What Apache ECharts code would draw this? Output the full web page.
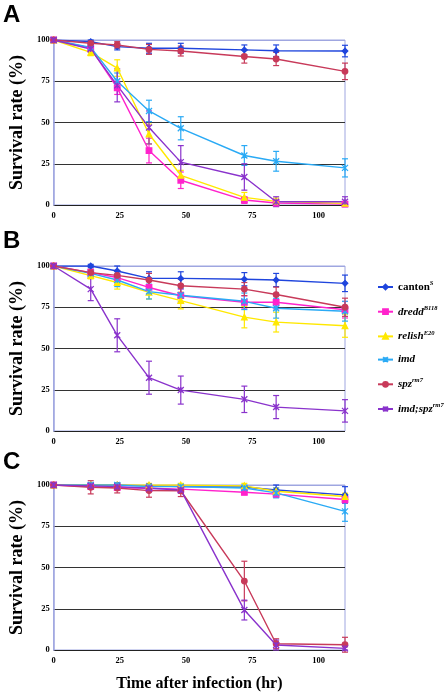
<!DOCTYPE html>
<html>
<head>
<meta charset="utf-8">
<script src="https://cdn.jsdelivr.net/npm/echarts@6/dist/echarts.min.js"></script>
<style>
html,body{margin:0;padding:0;background:#fff;}
#chart{width:445px;height:695px;}
</style>
</head>
<body>
<div id="chart"></div>
<script>
// ---- data ----
const hours = [0, 14, 24, 36, 48, 72, 84, 110];
const xTicks = [0, 25, 50, 75, 100];
const yTicks = [0, 25, 50, 75, 100];
const strainNames = ['canton', 'dredd', 'relish', 'imd', 'spz', 'imd;spz'];
const strainSup = ['S', 'B118', 'E20', '', 'rm7', 'rm7'];
const strainColors = ['#1f45dd', '#ff22cc', '#ffe800', '#2aaaf5', '#c83a5a', '#8a33cc'];
const panelLetters = ['A', 'B', 'C'];

// panel A: survival (%) per strain, order as strainNames
const panelA_canton = [100, 99, 96, 95, 95, 94, 93.5, 93.3];
const panelA_dredd = [100, 95, 71, 33, 15, 3, 1.2, 0.5];
const panelA_relish = [100, 92.5, 83, 43, 18, 4.6, 2.2, 1];
const panelA_imd = [100, 95.5, 75, 57, 46.5, 30, 26.5, 22.5];
const panelA_spz = [100, 98, 97, 94.3, 93.3, 90, 88.5, 81];
const panelA_imdspz = [100, 94.5, 72.5, 47, 26, 17, 2, 2];
const panelA_err = [
  [0, 1, 2, 3, 3, 3, 3.5, 3.5],
  [0, 2, 4, 7.5, 5, 2, 1, 1],
  [0, 2, 5, 6, 3, 3, 2, 1],
  [0, 2, 5, 6.5, 7, 6, 6, 5.5],
  [0, 1.5, 2, 3, 3, 4, 4, 5],
  [0, 2, 10, 10, 10, 8, 3, 3]
];

// panel B
const panelB_canton = [100, 100, 97, 92.5, 92.5, 92, 91.5, 89.5];
const panelB_dredd = [100, 96, 93, 87, 82, 78, 78, 73.5];
const panelB_relish = [100, 94.2, 90, 84, 79, 69, 66, 63.8];
const panelB_imd = [100, 95.5, 91.5, 84.5, 82.3, 78.6, 74.4, 72.6];
const panelB_spz = [100, 96, 94.3, 91.5, 88, 86, 82.7, 75];
const panelB_imdspz = [100, 86, 58, 32.3, 24.8, 19.2, 14.5, 12.2];
const panelB_err = [
  [0, 1, 3, 4, 4, 4, 4, 5],
  [0, 2, 4, 4, 4, 4, 4, 5],
  [0, 2, 4, 4, 5, 6.5, 6, 7],
  [0, 2, 4, 4.5, 4, 5, 6, 6],
  [0, 2, 3, 4, 4, 4, 4.5, 5.5],
  [0, 7, 10, 10, 8.5, 8, 7, 6.8]
];

// panel C
const panelC_canton = [100, 100, 100, 99.5, 99, 98.8, 97, 94];
const panelC_dredd = [100, 99, 98.5, 98, 97.5, 95.6, 94.5, 91.2];
const panelC_relish = [100, 100, 100, 100, 100, 99.5, 96.2, 93];
const panelC_imd = [100, 100, 100, 99, 99, 98.2, 95.2, 84];
const panelC_spz = [100, 98.6, 98.2, 96.6, 96.5, 41.8, 3.8, 3.2];
const panelC_imdspz = [100, 99.5, 99, 98, 97, 24.2, 3, 1];
const panelC_err = [
  [0, 1, 1, 1, 1, 1, 3, 5],
  [0, 1, 1, 1, 1, 1.5, 2, 2],
  [0, 1, 1, 1, 1, 1.5, 2, 2],
  [0, 1, 1, 1, 1, 1.5, 3, 6],
  [0, 4, 3, 4, 3.5, 12, 3, 4.5],
  [0, 1, 1, 2, 2, 6, 3, 1]
];

const panelValues = [
  [panelA_canton, panelA_dredd, panelA_relish, panelA_imd, panelA_spz, panelA_imdspz],
  [panelB_canton, panelB_dredd, panelB_relish, panelB_imd, panelB_spz, panelB_imdspz],
  [panelC_canton, panelC_dredd, panelC_relish, panelC_imd, panelC_spz, panelC_imdspz]
];
const panelErrors = [panelA_err, panelB_err, panelC_err];

// ---- layout / style ----
const gridTops = [40, 266, 485];
const gridH = 165;
const serif = 'Liberation Serif';
const asterisk = 'path://M0,0L10,10M10,0L0,10M5,0L5,10';
const symbols = ['diamond', 'rect', 'triangle', asterisk, 'circle', asterisk];

function errRender(params, api) {
  const x = api.value(0), y = api.value(1), e = api.value(2);
  if (!e) return null;
  const t = api.coord([x, y + e]);
  const b = api.coord([x, y - e]);
  const w = 3;
  const style = { stroke: api.visual('color'), lineWidth: 1.2, fill: null };
  return {
    type: 'group',
    children: [
      { type: 'line', shape: { x1: t[0], y1: t[1], x2: b[0], y2: b[1] }, style: style },
      { type: 'line', shape: { x1: t[0] - w, y1: t[1], x2: t[0] + w, y2: t[1] }, style: style },
      { type: 'line', shape: { x1: b[0] - w, y1: b[1], x2: b[0] + w, y2: b[1] }, style: style }
    ]
  };
}

const grids = [], xAxes = [], yAxes = [], series = [], graphics = [];
for (let p = 0; p < 3; p++) {
  grids.push({
    left: 52, width: 293, top: gridTops[p], height: gridH,
    show: true, borderColor: '#9fa6e0', borderWidth: 1, backgroundColor: 'transparent'
  });
  xAxes.push({
    gridIndex: p, type: 'value', min: 0, max: 110, interval: 25,
    axisLine: { show: false },
    axisTick: { show: false },
    splitLine: { show: false },
    axisLabel: {
      color: '#000', fontFamily: serif, fontWeight: 'bold',
      fontSize: 8.5, margin: 6,
      customValues: xTicks
    },
    name: p === 2 ? 'Time after infection (hr)' : '',
    nameLocation: 'middle', nameGap: 26,
    nameTextStyle: { fontFamily: serif, fontWeight: 'bold', fontSize: 16, color: '#000' }
  });
  yAxes.push({
    gridIndex: p, type: 'value', min: 0, max: 100, interval: 25,
    axisLine: { show: true, lineStyle: { color: '#9fa6e0', width: 1.5 } },
    axisTick: { show: false },
    splitLine: { show: true, lineStyle: { color: ['#222', '#333', '#333', '#333', '#9fa6e0'], width: 1 } },
    axisLabel: {
      color: '#000', fontFamily: serif, fontWeight: 'bold', fontSize: 8.5, margin: 4,
      customValues: yTicks
    },
    name: 'Survival rate (%)', nameLocation: 'middle', nameGap: 18, nameRotate: 90,
    nameTextStyle: { fontFamily: serif, fontWeight: 'bold', fontSize: 18, color: '#000' }
  });
  for (let s = 0; s < strainNames.length; s++) {
    const vals = panelValues[p][s];
    const errs = panelErrors[p][s];
    series.push({
      type: 'custom', name: strainNames[s] + ' err ' + p,
      xAxisIndex: p, yAxisIndex: p,
      itemStyle: { color: strainColors[s] },
      renderItem: errRender,
      encode: { x: 0, y: 1 },
      clip: false, silent: true, z: 2,
      data: hours.map((h, i) => [h, vals[i], errs[i]])
    });
  }
  for (let s = 0; s < strainNames.length; s++) {
    const vals = panelValues[p][s];
    series.push({
      type: 'line', name: strainNames[s],
      xAxisIndex: p, yAxisIndex: p,
      color: strainColors[s],
      symbol: symbols[s], symbolSize: s === 3 || s === 5 ? 6 : 5.5,
      showAllSymbol: true,
      lineStyle: { width: 1.4, color: strainColors[s] },
      itemStyle: { color: strainColors[s], borderColor: strainColors[s], borderWidth: 1.3 },
      animation: false, z: 3,
      data: hours.map((h, i) => [h, vals[i]])
    });
  }
  graphics.push({
    type: 'text', left: 3, top: gridTops[p] - 37 + (p === 2 ? 2 : 0),
    style: { text: panelLetters[p], font: 'bold 24px "Liberation Sans", Arial', fill: '#000' }
  });
}

const rich = {
  n: { fontFamily: serif, fontWeight: 'bold', fontStyle: 'italic', fontSize: 11, color: '#000', lineHeight: 14 },
  u: { fontFamily: serif, fontWeight: 'bold', fontSize: 11, color: '#000', lineHeight: 14 },
  s: { fontFamily: serif, fontWeight: 'bold', fontStyle: 'italic', fontSize: 6.5, color: '#000', verticalAlign: 'top', lineHeight: 14 }
};

const chart = echarts.init(document.getElementById('chart'), null, { renderer: 'canvas' });
chart.setOption({
  animation: false,
  backgroundColor: '#fff',
  grid: grids,
  xAxis: xAxes,
  yAxis: yAxes,
  legend: {
    data: strainNames,
    orient: 'vertical', left: 372, top: 275,
    itemWidth: 15, itemHeight: 6, itemGap: 12.2,
    selectedMode: false,
    formatter: function (name) {
      const i = strainNames.indexOf(name);
      const base = i === 0 ? '{u|' + name + '}' : '{n|' + name + '}';
      return base + (strainSup[i] ? '{s|' + strainSup[i] + '}' : '');
    },
    textStyle: { rich: rich }
  },
  graphic: graphics,
  series: series
});
</script>
</body>
</html>
